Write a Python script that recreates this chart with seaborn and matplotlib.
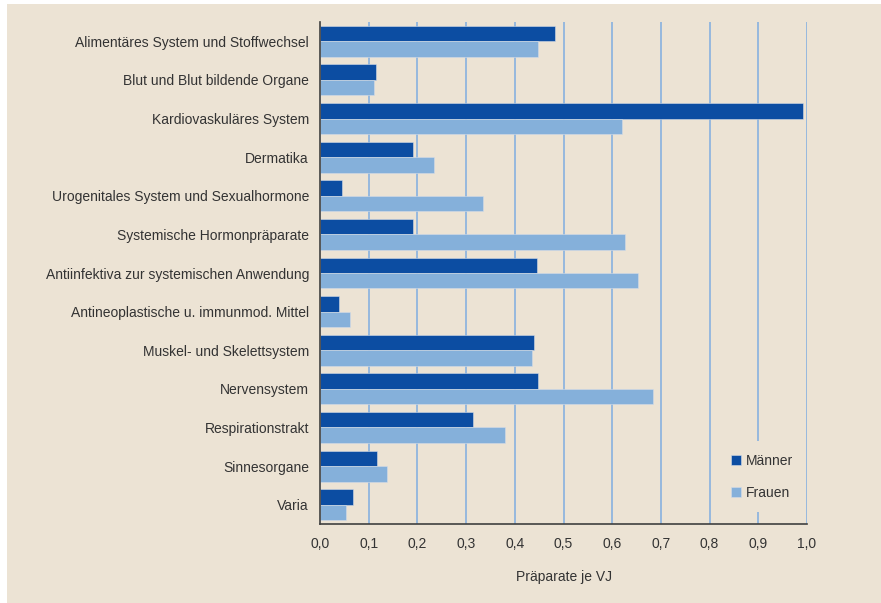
import pandas as pd
import matplotlib.pyplot as plt
import matplotlib.ticker as mticker
from matplotlib.patches import Rectangle
import seaborn as sns
import numpy as np

# Data
categories = [
    'Alimentäres System und Stoffwechsel',
    'Blut und Blut bildende Organe',
    'Kardiovaskuläres System',
    'Dermatika',
    'Urogenitales System und Sexualhormone',
    'Systemische Hormonpräparate',
    'Antiinfektiva zur systemischen Anwendung',
    'Antineoplastische u. immunmod. Mittel',
    'Muskel- und Skelettsystem',
    'Nervensystem',
    'Respirationstrakt',
    'Sinnesorgane',
    'Varia',
]
maenner = [0.483, 0.116, 0.992, 0.191, 0.045, 0.191, 0.446, 0.040, 0.439, 0.448, 0.315, 0.118, 0.067]
frauen = [0.448, 0.111, 0.621, 0.235, 0.334, 0.626, 0.652, 0.062, 0.436, 0.684, 0.380, 0.138, 0.053]
series_names = ['Männer', 'Frauen']
x_ticks = [0.0, 0.1, 0.2, 0.3, 0.4, 0.5, 0.6, 0.7, 0.8, 0.9, 1.0]

df = pd.DataFrame({
    'Kategorie': categories * 2,
    'Wert': maenner + frauen,
    'Geschlecht': [series_names[0]] * len(categories) + [series_names[1]] * len(categories),
})

bg = '#ECE3D4'
text_col = '#333333'
grid_col = '#8FB5DF'

sns.set_style('white')
plt.rcParams['font.family'] = ['Liberation Sans', 'DejaVu Sans']

fig = plt.figure(figsize=(8.81, 6.03), dpi=100)
fig.patch.set_facecolor('white')
panel = Rectangle((7 / 881, 0), 1, 1 - 4 / 603, transform=fig.transFigure,
                  facecolor=bg, edgecolor='none', zorder=-10)
fig.add_artist(panel)

ax = fig.add_axes([320 / 881, 1 - 524 / 603, 487 / 881, 502 / 603])
ax.set_facecolor(bg)

sns.barplot(data=df, y='Kategorie', x='Wert', hue='Geschlecht', orient='h',
            hue_order=series_names, palette=['#0C4DA2', '#85B0DA'], saturation=1,
            width=0.8, edgecolor='#D5DCE6', linewidth=0.4, ax=ax, zorder=3)

ax.set_xlim(0, 1.0)
ax.set_ylim(len(categories) - 0.5, -0.5)
ax.set_xticks(x_ticks)
ax.xaxis.set_major_formatter(mticker.FuncFormatter(lambda v, p: f'{v:.1f}'.replace('.', ',')))
for xv in x_ticks[1:]:
    ax.axvline(xv, color=grid_col, lw=1.3, zorder=1)

for s in ['top', 'right']:
    ax.spines[s].set_visible(False)
for s in ['left', 'bottom']:
    ax.spines[s].set_color('#404040')
    ax.spines[s].set_linewidth(1.2)
    ax.spines[s].set_zorder(4)

ax.tick_params(axis='x', direction='out', length=4, width=1, color='#404040',
               labelsize=10, labelcolor=text_col, pad=5)
ax.tick_params(axis='y', length=0, labelsize=10, labelcolor=text_col, pad=8)
ax.set_yticks(np.arange(-0.5, len(categories), 1.0), minor=True)
ax.tick_params(axis='y', which='minor', direction='out', length=4, width=1, color='#404040')

ax.set_ylabel('')
ax.set_xlabel('Präparate je VJ', fontsize=10, color=text_col, labelpad=14)

leg = ax.legend(loc='center', bbox_to_anchor=(0.908, 0.094), frameon=True,
                facecolor=bg, edgecolor='none', framealpha=1,
                handlelength=0.7, handleheight=0.7, handletextpad=0.4,
                labelspacing=1.3, fontsize=10, borderpad=0.9)
for t in leg.get_texts():
    t.set_color(text_col)
leg.set_zorder(5)

plt.savefig('out.png', dpi=100, facecolor=fig.get_facecolor())
plt.close()
